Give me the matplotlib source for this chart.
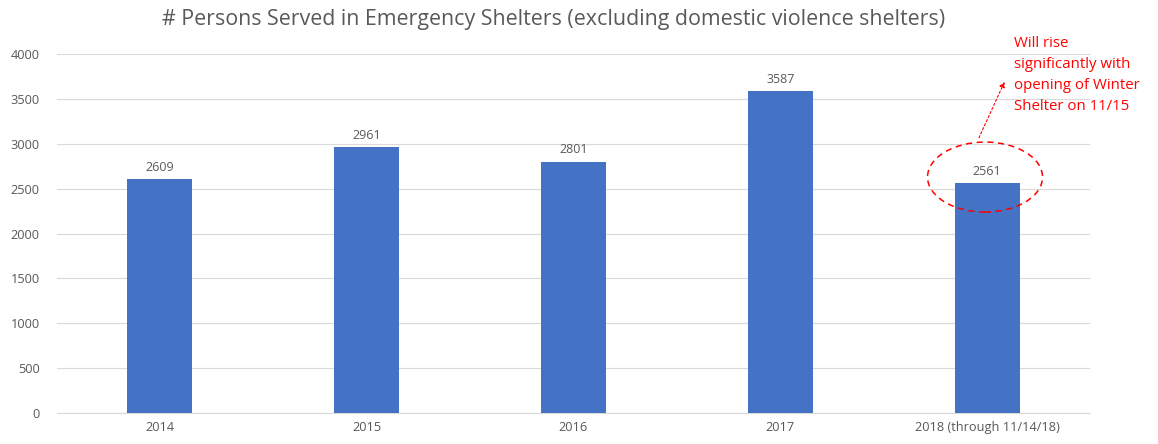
import matplotlib
matplotlib.use("Agg")
import matplotlib.pyplot as plt
from matplotlib.patches import Ellipse

years = ["2014", "2015", "2016", "2017", "2018 (through 11/14/18)"]
persons = [2609, 2961, 2801, 3587, 2561]
yticks = [0, 500, 1000, 1500, 2000, 2500, 3000, 3500, 4000]
note = "Will rise\nsignificantly with\nopening of Winter\nShelter on 11/15"

plt.rcParams['font.family'] = ['Open Sans', 'DejaVu Sans']

fig = plt.figure(figsize=(11.58, 4.44), dpi=100)
ax = fig.add_axes([0.0488, 0.0698, 0.8929, 0.8082])

x = list(range(len(years)))
bars = ax.bar(x, persons, width=0.315, color="#4472C4", zorder=3)
for xi, v in zip(x, persons):
    ax.text(xi, v + 60, str(v), ha="center", va="bottom", fontsize=9, color="#595959")

ax.set_xlim(-0.5, len(years) - 0.5)
ax.set_ylim(0, 4000)
ax.set_yticks(yticks)
ax.set_xticks(x)
ax.set_xticklabels(years)
ax.tick_params(axis="both", length=0, labelsize=9.2, labelcolor="#595959")
ax.tick_params(axis="y", pad=12)
ax.tick_params(axis="x", pad=6)
ax.grid(axis="y", color="#d9d9d9", linewidth=0.8, zorder=0)
for s in ["top", "right", "left"]:
    ax.spines[s].set_visible(False)
ax.spines["bottom"].set_color("#d9d9d9")

fig.suptitle("# Persons Served in Emergency Shelters (excluding domestic violence shelters)",
             x=0.478, y=0.98, fontsize=15.4, color="#595959")

# annotation on the 2018 bar
ell = Ellipse((3.99, 2630), 0.556, 780, fill=False, edgecolor="#ff0000",
              linestyle=(0, (4, 3)), linewidth=1.1, zorder=4, clip_on=False)
ax.add_patch(ell)
ax.annotate("", xy=(4.09, 3720), xytext=(3.955, 3040),
            arrowprops=dict(arrowstyle="-|>", color="#ff0000", linestyle=(0, (2, 2)),
                            linewidth=0.8, mutation_scale=8))
ax.text(4.13, 4200, note, ha="left", va="top", fontsize=10.8, color="#ff0000",
        linespacing=1.55, clip_on=False)

fig.savefig("out.png", dpi=100)
